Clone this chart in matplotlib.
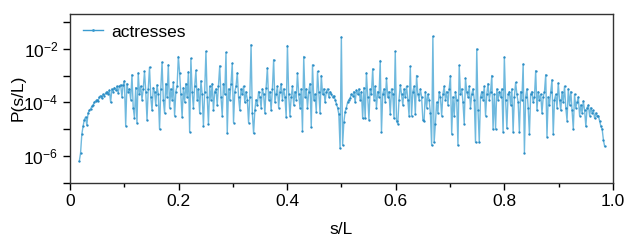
import numpy as np
import matplotlib
matplotlib.use('Agg')
import matplotlib.pyplot as plt

plt.rcParams['font.family'] = ['Liberation Sans', 'DejaVu Sans']
plt.rcParams['mathtext.fontset'] = 'custom'
plt.rcParams['mathtext.rm'] = 'Liberation Sans'
plt.rcParams['mathtext.it'] = 'Liberation Sans:italic'

# s/L grid (first and last bin)
x_first, x_last = 0.017, 0.985

# log10 P(s/L)
log_p = [
    -6.2, -5.9, -5.2, -4.9, -4.65, -4.55, -4.85, -4.4, -4.3, -4.25,
    -4.15, -4.1, -4.0, -3.95, -3.9, -3.95, -3.8, -3.75, -3.85, -3.7,
    -3.75, -3.65, -3.6, -3.7, -3.55, -4.0, -3.5, -3.6, -3.45, -3.55,
    -3.4, -3.65, -3.4, -3.35, -3.8, -3.35, -3.2, -4.88, -3.3, -3.6,
    -3.5, -3.9, -2.97, -4.2, -4.58, -3.45, -4.77, -2.9, -3.7, -3.4,
    -3.9, -3.5, -2.85, -3.6, -4.66, -3.5, -2.69, -3.8, -4.3, -3.45,
    -3.6, -4.1, -3.35, -3.7, -5.0, -3.5, -2.5, -3.9, -4.4, -3.3,
    -3.8, -2.6, -4.2, -3.5, -3.9, -3.25, -4.5, -3.6, -3.4, -2.29,
    -2.9, -3.7, -4.55, -3.45, -4.0, -3.3, -3.8, -2.86, -5.1, -2.36,
    -3.6, -4.2, -3.4, -2.81, -3.9, -3.5, -4.4, -3.2, -3.7, -4.88,
    -3.6, -2.1, -3.8, -4.81, -3.4, -3.9, -3.3, -4.3, -3.6, -3.5,
    -4.1, -3.4, -2.64, -3.8, -4.5, -3.3, -3.7, -2.14, -5.16, -3.5,
    -3.9, -3.3, -2.54, -4.76, -3.6, -3.4, -2.9, -3.8, -4.3, -3.5,
    -3.7, -3.4, -4.0, -3.6, -3.9, -4.76, -3.8, -1.85, -4.4, -5.16,
    -4.3, -3.9, -4.1, -3.6, -3.8, -4.2, -3.5, -3.7, -4.4, -3.45,
    -2.72, -3.9, -3.6, -4.3, -3.5, -2.41, -4.0, -3.7, -3.4, -4.2,
    -3.6, -3.3, -3.9, -3.5, -3.8, -4.55, -1.88, -3.7, -4.5, -3.8,
    -3.4, -4.1, -3.6, -3.9, -2.91, -3.7, -4.2, -3.5, -5.07, -2.29,
    -3.8, -3.5, -4.2, -3.6, -3.3, -4.93, -2.6, -3.9, -3.7, -4.35,
    -2.85, -3.6, -4.4, -3.0, -3.7, -3.5, -4.0, -3.6, -3.5, -3.8,
    -3.6, -3.7, -3.8, -3.75, -3.9, -4.05, -4.2, -4.45, -5.72, -1.56,
    -5.6, -4.75, -4.35, -4.2, -4.0, -3.9, -3.85, -3.7, -3.75, -3.6,
    -4.0, -3.55, -3.7, -3.5, -3.9, -3.6, -4.6, -3.45, -4.6, -2.9,
    -3.8, -4.65, -3.5, -3.7, -2.75, -3.9, -3.4, -4.2, -3.6, -3.8,
    -2.44, -5.12, -3.7, -3.5, -4.0, -3.1, -3.8, -3.6, -4.45, -3.5,
    -3.7, -4.6, -2.1, -4.7, -4.8, -3.9, -3.35, -3.7, -4.1, -3.5,
    -3.8, -3.4, -3.9, -4.5, -2.66, -4.5, -3.6, -3.4, -4.45, -3.0,
    -3.7, -3.9, -3.5, -3.8, -4.65, -4.7, -3.6, -4.2, -3.7, -3.9,
    -4.4, -5.6, -1.54, -5.5, -4.8, -4.0, -4.4, -3.6, -3.8, -4.5,
    -3.7, -3.4, -3.9, -3.6, -4.1, -3.5, -3.0, -5.18, -3.8, -4.5,
    -3.6, -3.9, -5.6, -2.62, -3.7, -3.5, -4.0, -4.8, -3.1, -3.6,
    -3.8, -3.4, -4.2, -3.7, -3.5, -3.9, -5.5, -2.01, -4.3, -5.5,
    -3.8, -3.6, -3.9, -3.4, -4.5, -3.7, -3.3, -3.9, -3.6, -3.0,
    -5.0, -3.7, -5.0, -3.5, -3.9, -3.6, -3.8, -3.5, -5.1, -2.31,
    -3.9, -4.97, -3.7, -3.6, -4.1, -3.5, -5.1, -3.8, -3.26, -3.7,
    -4.0, -5.1, -3.6, -3.9, -2.57, -5.88, -3.8, -3.5, -4.2, -5.2,
    -3.7, -3.6, -4.0, -3.8, -2.82, -4.3, -3.6, -3.9, -3.7, -4.4,
    -3.8, -3.6, -2.97, -5.28, -3.8, -4.1, -3.6, -3.16, -5.2, -3.9,
    -3.7, -4.2, -3.28, -3.9, -4.3, -3.6, -4.0, -3.4, -4.2, -4.68,
    -3.5, -4.1, -3.6, -4.3, -5.0, -3.7, -4.2, -4.0, -3.8, -4.5,
    -4.1, -4.4, -3.95, -4.3, -4.9, -4.2, -4.1, -4.5, -4.2, -4.4,
    -4.3, -4.6, -4.4, -4.5, -4.5, -4.7, -4.9, -5.0, -5.4, -5.65,
]

s_over_L = np.linspace(x_first, x_last, len(log_p))
p = 10.0 ** np.array(log_p)

fig = plt.figure(figsize=(6.37, 2.40), dpi=100)
ax = fig.add_axes([0.110, 0.239, 0.852, 0.703])

ax.plot(s_over_L, p, '-', color='#6fb9de', lw=1.0, zorder=2)
ax.plot(s_over_L, p, 'o', color='#2b8cc4', ms=1.7, mew=0, zorder=3)
# legend handle: line with dot
ax.plot([], [], '-o', color='#3a9bd0', lw=1.0, ms=2.0, mew=0, label='actresses')

ax.set_yscale('log')
ax.set_xlim(0, 1)
ax.set_ylim(1e-7, 10 ** -0.7)

ax.set_xticks([0, 0.2, 0.4, 0.6, 0.8, 1.0])
ax.set_xticklabels(['0', '0.2', '0.4', '0.6', '0.8', '1.0'])
ax.set_xticks([0.1, 0.3, 0.5, 0.7, 0.9], minor=True)
ax.set_yticks([1e-7, 1e-6, 1e-5, 1e-4, 1e-3, 1e-2, 1e-1])
ax.set_yticklabels(['', r'$10^{-6}$', '', r'$10^{-4}$', '', r'$10^{-2}$', ''])
ax.set_yticks([], minor=True)

ax.tick_params(axis='both', which='major', direction='out', length=5, width=1,
               labelsize=12.5, top=False, right=False)
ax.tick_params(axis='x', which='minor', direction='out', length=3, width=1)
for sp in ax.spines.values():
    sp.set_linewidth(1.0)
    sp.set_color('#333333')

ax.set_xlabel('s/L', fontsize=12.5, labelpad=9)
ax.set_ylabel('P(s/L)', fontsize=12.5, labelpad=-2)

ax.legend(loc='center left', bbox_to_anchor=(0.024, 0.893), frameon=False,
          fontsize=12.5, handlelength=1.15, borderpad=0, borderaxespad=0,
          handletextpad=0.5)

fig.savefig('out.png', dpi=100)
